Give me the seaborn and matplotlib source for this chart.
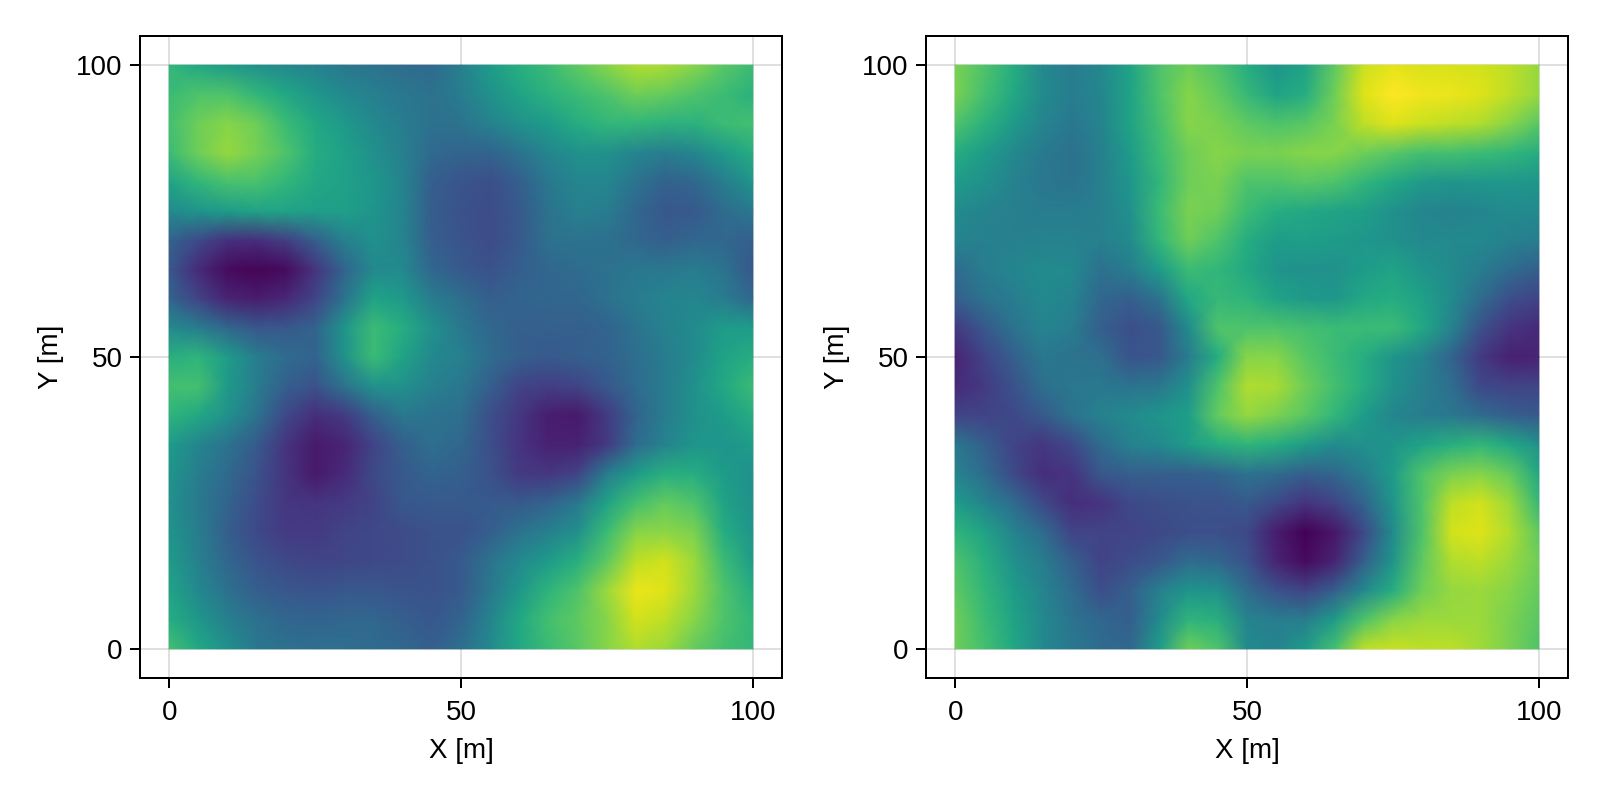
import numpy as np
import pandas as pd
import matplotlib
matplotlib.use("Agg")
import matplotlib.pyplot as plt
from matplotlib.transforms import Affine2D
import seaborn as sns

# Sample positions of the two fields, in metres
x_m = list(range(0, 101, 5))
y_m = list(range(100, -1, -5))
ticks = [0, 50, 100]

# Normalised field values, one row per y_m entry, one column per x_m entry
field_left = [
    [.66,.60,.55,.50,.47,.44,.40,.38,.35,.34,.43,.55,.63,.68,.75,.82,.88,.87,.82,.74,.68],
    [.68,.72,.72,.66,.60,.53,.47,.43,.40,.37,.42,.50,.58,.64,.68,.72,.78,.76,.72,.68,.64],
    [.70,.78,.82,.78,.68,.60,.54,.47,.42,.37,.38,.44,.50,.55,.62,.66,.66,.64,.64,.68,.70],
    [.68,.78,.84,.79,.72,.62,.57,.50,.43,.34,.32,.32,.38,.46,.50,.50,.45,.42,.46,.54,.62],
    [.58,.66,.71,.71,.66,.60,.57,.53,.45,.30,.26,.24,.30,.40,.46,.46,.38,.31,.33,.42,.52],
    [.48,.52,.55,.58,.58,.56,.56,.52,.45,.29,.25,.23,.28,.38,.43,.42,.33,.27,.28,.35,.40],
    [.32,.22,.14,.13,.18,.30,.43,.50,.45,.30,.26,.23,.28,.37,.38,.37,.33,.30,.33,.33,.30],
    [.27,.12,.03,.01,.03,.15,.32,.47,.47,.33,.28,.25,.30,.33,.35,.37,.40,.40,.42,.38,.27],
    [.32,.20,.10,.08,.11,.20,.38,.58,.54,.42,.36,.30,.32,.33,.33,.37,.42,.45,.46,.42,.33],
    [.48,.42,.33,.27,.27,.32,.52,.68,.62,.50,.40,.33,.30,.30,.30,.32,.38,.44,.48,.55,.55],
    [.63,.65,.55,.42,.35,.32,.50,.68,.58,.47,.43,.35,.30,.28,.30,.31,.36,.42,.48,.58,.62],
    [.70,.70,.54,.42,.30,.25,.38,.50,.50,.43,.40,.30,.20,.18,.20,.27,.35,.42,.50,.60,.68],
    [.65,.60,.50,.38,.22,.13,.17,.30,.40,.38,.36,.24,.16,.08,.07,.17,.32,.42,.50,.55,.62],
    [.55,.45,.38,.28,.15,.07,.10,.20,.30,.36,.33,.24,.15,.09,.09,.17,.35,.45,.52,.52,.55],
    [.52,.42,.34,.25,.15,.07,.12,.22,.28,.32,.30,.25,.17,.16,.20,.42,.55,.63,.62,.55,.50],
    [.50,.41,.32,.23,.16,.15,.17,.20,.27,.28,.28,.28,.28,.32,.40,.58,.70,.76,.72,.58,.50],
    [.52,.42,.30,.22,.17,.17,.20,.22,.23,.25,.25,.30,.38,.43,.50,.68,.82,.83,.80,.62,.52],
    [.55,.43,.33,.26,.22,.20,.21,.22,.23,.25,.28,.38,.47,.55,.63,.75,.90,.93,.85,.68,.55],
    [.58,.47,.37,.30,.27,.26,.27,.27,.26,.25,.28,.40,.53,.65,.72,.85,.97,.95,.85,.72,.62],
    [.62,.53,.43,.37,.33,.32,.33,.33,.30,.27,.32,.45,.60,.70,.75,.82,.93,.90,.82,.72,.66],
    [.70,.60,.50,.40,.37,.36,.36,.35,.33,.30,.36,.48,.60,.68,.74,.82,.88,.85,.76,.70,.66],
]
field_right = [
    [.80,.72,.62,.47,.42,.47,.58,.72,.78,.72,.62,.52,.58,.75,.92,.96,.94,.94,.93,.90,.84],
    [.80,.70,.60,.48,.42,.46,.58,.72,.82,.76,.67,.58,.62,.78,.95,1.0,.98,.97,.95,.90,.84],
    [.72,.64,.54,.45,.40,.45,.58,.70,.82,.80,.75,.72,.74,.80,.90,.95,.92,.90,.88,.82,.74],
    [.62,.55,.47,.41,.37,.43,.55,.68,.78,.82,.80,.80,.82,.82,.78,.74,.70,.70,.68,.66,.62],
    [.55,.50,.44,.40,.38,.43,.53,.66,.78,.80,.72,.72,.74,.72,.66,.60,.54,.52,.53,.53,.52],
    [.48,.45,.43,.42,.42,.43,.50,.68,.80,.78,.68,.62,.60,.58,.56,.50,.46,.44,.46,.48,.47],
    [.45,.43,.43,.44,.44,.43,.48,.66,.78,.72,.62,.55,.56,.55,.53,.50,.47,.47,.47,.44,.42],
    [.35,.42,.46,.48,.47,.37,.42,.55,.68,.66,.60,.52,.50,.50,.55,.58,.52,.48,.42,.35,.30],
    [.30,.38,.42,.47,.45,.33,.30,.38,.60,.67,.65,.58,.54,.53,.60,.62,.57,.48,.35,.24,.20],
    [.17,.27,.38,.45,.42,.30,.24,.27,.48,.72,.72,.72,.70,.68,.68,.68,.60,.45,.25,.15,.12],
    [.10,.20,.30,.40,.38,.36,.26,.27,.42,.62,.82,.82,.74,.68,.62,.52,.45,.32,.17,.09,.10],
    [.12,.17,.25,.36,.40,.40,.38,.40,.50,.72,.88,.87,.78,.70,.62,.50,.43,.36,.22,.20,.20],
    [.20,.20,.22,.28,.38,.44,.48,.52,.56,.76,.84,.80,.74,.66,.55,.46,.42,.40,.35,.30,.28],
    [.40,.30,.20,.16,.22,.35,.44,.47,.55,.62,.65,.62,.55,.48,.50,.52,.58,.63,.66,.60,.50],
    [.45,.35,.22,.13,.15,.27,.30,.30,.30,.32,.38,.35,.30,.33,.42,.55,.72,.80,.82,.76,.60],
    [.55,.45,.35,.22,.13,.15,.22,.24,.25,.25,.28,.22,.15,.20,.32,.52,.72,.90,.93,.85,.67],
    [.65,.58,.45,.35,.20,.20,.20,.22,.24,.24,.22,.08,.00,.06,.22,.48,.72,.93,.95,.88,.75],
    [.72,.63,.50,.42,.30,.20,.23,.27,.35,.33,.25,.10,.03,.10,.30,.52,.75,.88,.90,.85,.78],
    [.75,.66,.55,.45,.35,.24,.30,.43,.52,.50,.35,.25,.20,.30,.47,.62,.78,.84,.85,.82,.76],
    [.78,.68,.58,.47,.38,.33,.30,.48,.65,.63,.45,.42,.42,.55,.72,.82,.85,.85,.85,.80,.74],
    [.78,.70,.60,.47,.40,.35,.33,.55,.78,.72,.48,.45,.55,.70,.90,.92,.90,.90,.86,.80,.72],
]

sns.set_theme(style="white")
plt.rcParams["font.family"] = ["Liberation Sans", "DejaVu Sans"]

fig = plt.figure(figsize=(16, 8), dpi=100, facecolor="white")
W, H = 1600, 800
left_edges = [140, 926]
fields = [field_left, field_right]
step = x_m[1] - x_m[0]
text_size = 20

for edge, field in zip(left_edges, fields):
    ax = fig.add_axes([edge / W, 1 - 678 / H, 642 / W, 642 / H])
    frame = pd.DataFrame(field, index=y_m, columns=x_m).iloc[::-1]
    # Smooth shading places values on the sample nodes; the transform maps node index to metres
    sns.heatmap(frame, ax=ax, cmap="viridis", vmin=0, vmax=1, cbar=False,
                shading="gouraud",
                transform=Affine2D().scale(step) + ax.transData)
    ax.set_xlim(-5, 105)
    ax.set_ylim(-5, 105)
    ax.set_xticks(ticks)
    ax.set_yticks(ticks)
    ax.set_xticklabels([str(t) for t in ticks], rotation=0)
    ax.set_yticklabels([str(t) for t in ticks], rotation=0, va="center_baseline")
    ax.set_xlabel("X [m]", fontsize=text_size, labelpad=9, color="black")
    ax.set_ylabel("Y [m]", fontsize=text_size, labelpad=8.5, color="black")
    ax.tick_params(axis="both", which="major", length=7.2, width=1.44, color="black",
                   labelsize=text_size, labelcolor="black", bottom=True, left=True)
    ax.tick_params(axis="x", pad=8.4)
    ax.tick_params(axis="y", pad=5.5)
    ax.grid(True, color="black", alpha=0.12, linewidth=1.44)
    ax.set_axisbelow(True)
    for side in ax.spines.values():
        side.set_visible(True)
        side.set_color("black")
        side.set_linewidth(1.44)

fig.savefig("out.png", dpi=100, facecolor="white")
